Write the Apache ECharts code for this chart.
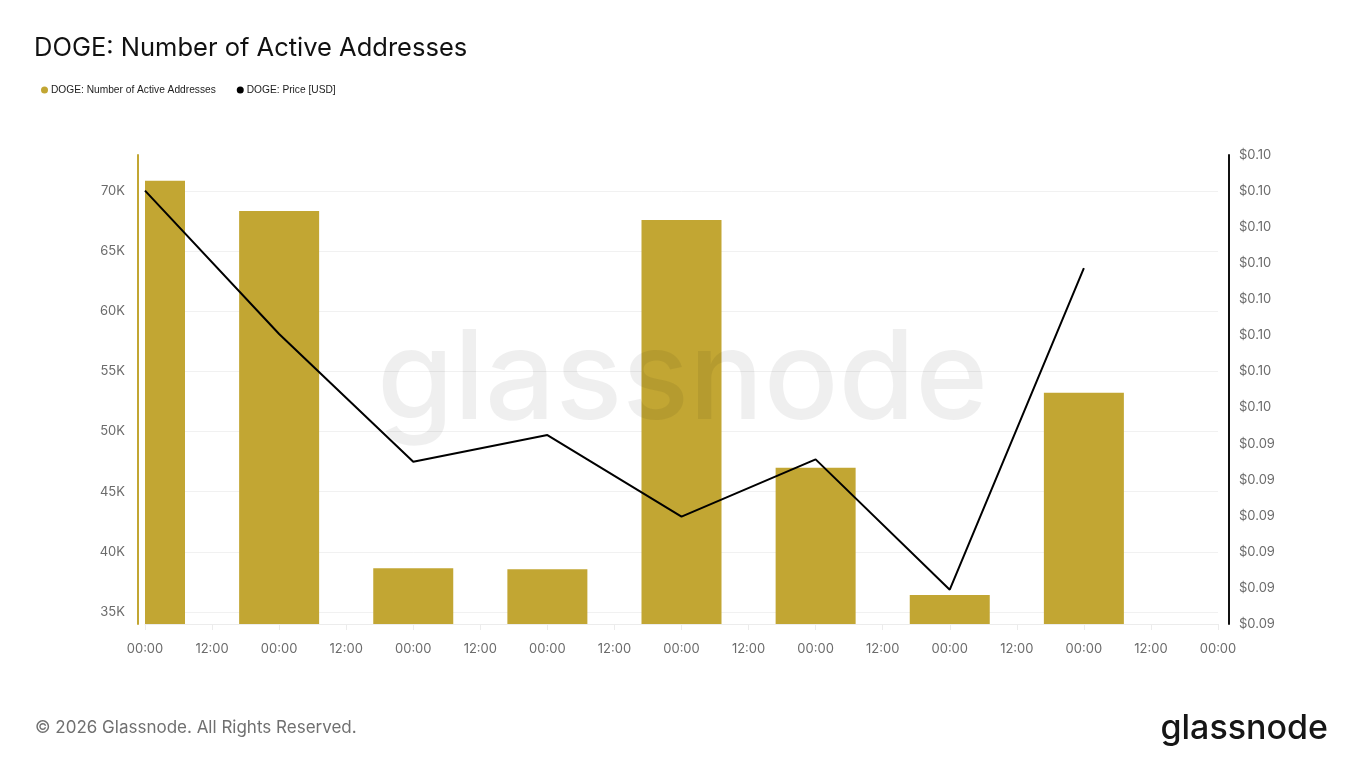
<!DOCTYPE html>
<html>
<head>
<meta charset="utf-8">
<title>DOGE: Number of Active Addresses</title>
<script src="https://cdn.jsdelivr.net/npm/echarts@6/dist/echarts.min.js"></script>
<style>
  html, body { margin: 0; padding: 0; background: #fff; }
  #main { width: 1365px; height: 768px; }
</style>
</head>
<body>
<div id="main"></div>
<script>
// DOGE 活跃地址数 + 价格
var myChart = echarts.init(document.getElementById('main'));

var days = ['2026-01-21', '2026-01-22', '2026-01-23', '2026-01-24',
            '2026-01-25', '2026-01-26', '2026-01-27', '2026-01-28'];
var activeAddresses = [70850, 68350, 38630, 38550, 67590, 46990, 36410, 53230];
var priceUsd = [0.10001, 0.09683, 0.09400, 0.09459, 0.09278, 0.09405, 0.09116, 0.09829];
var legendData = ['DOGE: Number of Active Addresses', 'DOGE: Price [USD]'];

var HALF_DAY = 12 * 3600 * 1000;
var dayMs = days.map(function (d) {
    var p = d.split('-');
    return Date.UTC(+p[0], +p[1] - 1, +p[2]);
});
var barData = [], lineData = [];
for (var i = 0; i < days.length; i++) {
    barData.push([dayMs[i], activeAddresses[i]]);
    lineData.push([dayMs[i], priceUsd[i]]);
}

var gold = '#C2A633';
var labelColor = '#6b6b6b';
var font = 'Inter, "Noto Sans", sans-serif';
var smallFont = '"Liberation Sans", Arial, sans-serif';
var leftMin = 34000;

// bars on a value axis are not clipped by echarts, so draw them as custom rects clipped to the grid
function renderBar(params, api) {
    var top = api.coord([api.value(0), api.value(1)]);
    var base = api.coord([api.value(0), leftMin]);
    var w = 80;
    var cs = params.coordSys;
    var rect = echarts.graphic.clipRectByRect(
        { x: top[0] - w / 2, y: top[1], width: w, height: base[1] - top[1] },
        { x: cs.x, y: cs.y, width: cs.width, height: cs.height }
    );
    return rect && { type: 'rect', shape: rect, style: api.style() };
}

var option = {
    backgroundColor: '#fff',
    textStyle: { fontFamily: font },
    animation: false,
    title: {
        text: 'DOGE: Number of Active Addresses',
        left: 29, top: 30,
        textStyle: { color: '#111', fontSize: 25.5, fontWeight: 'normal', fontFamily: font }
    },
    legend: {
        left: 36, top: 80,
        icon: 'circle', itemWidth: 7, itemHeight: 7, itemGap: 21,
        textStyle: { color: '#222', fontSize: 10.2, fontFamily: smallFont, padding: [0, 0, 0, -2] },
        data: legendData
    },
    grid: { left: 145, right: 147, top: 155, bottom: 144, containLabel: false },
    xAxis: {
        type: 'value',
        min: dayMs[0],
        max: dayMs[0] + 16 * HALF_DAY,
        interval: HALF_DAY,
        axisLine: { show: true, lineStyle: { color: '#ececec' } },
        axisTick: { show: true, length: 6, lineStyle: { color: '#ececec' } },
        splitLine: { show: false },
        axisLabel: {
            color: labelColor, fontSize: 13, margin: 19,
            formatter: function (v) {
                return new Date(v).getUTCHours() === 0 ? '00:00' : '12:00';
            }
        }
    },
    yAxis: [
        {
            type: 'value',
            min: leftMin, max: 73000, splitNumber: 8,
            offset: 7,
            axisLine: { show: true, lineStyle: { color: gold, width: 2 } },
            axisTick: { show: false },
            splitLine: { show: true, showMinLine: false, showMaxLine: false, lineStyle: { color: '#f1f1f1' } },
            axisLabel: {
                color: labelColor, fontSize: 13, margin: 13,
                showMinLabel: false, showMaxLabel: false,
                formatter: function (v) { return (v / 1000) + 'K'; }
            }
        },
        {
            type: 'value',
            position: 'right',
            min: 0.0904, max: 0.1008, interval: 0.0008,
            offset: 11,
            axisLine: { show: true, lineStyle: { color: '#111', width: 2 } },
            axisTick: { show: false },
            splitLine: { show: false },
            axisLabel: {
                color: labelColor, fontSize: 13, margin: 10,
                formatter: function (v) { return '$' + v.toFixed(2); }
            }
        }
    ],
    series: [
        {
            name: legendData[0],
            type: 'custom',
            yAxisIndex: 0,
            renderItem: renderBar,
            encode: { x: 0, y: 1 },
            itemStyle: { color: gold },
            data: barData
        },
        {
            name: legendData[1],
            type: 'line',
            yAxisIndex: 1,
            showSymbol: false,
            symbol: 'circle',
            itemStyle: { color: '#000' },
            lineStyle: { color: '#000', width: 2 },
            data: lineData
        }
    ],
    graphic: [
        {
            type: 'text', left: 'center', top: 320, z: 100, silent: true,
            style: { text: 'glassnode', font: '500 124px ' + font, fill: 'rgba(0,0,0,0.062)' }
        },
        {
            type: 'text', left: 35, top: 719,
            style: { text: '\u00a9 2026 Glassnode. All Rights Reserved.', font: '17px ' + font, fill: '#707070' }
        },
        {
            type: 'text', right: 37, top: 712,
            style: { text: 'glassnode', font: '500 34px ' + font, fill: '#161616' }
        }
    ]
};

myChart.setOption(option);
</script>
</body>
</html>
